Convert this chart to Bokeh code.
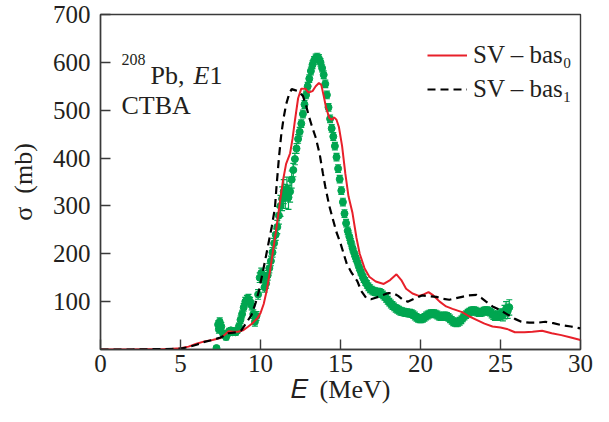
from bokeh.plotting import figure
from bokeh.models import (Range1d, FixedTicker, Label, Legend, LegendItem,
                          ColumnDataSource, Whisker, TeeHead)
from bokeh.embed import file_html
from bokeh.resources import INLINE

# ---------------- data ----------------
# SV - bas0 (red solid)
red_E = [0, 1, 2, 3, 4, 4.5, 5, 5.5, 6.0, 6.5, 7.0, 7.5, 7.8, 8.0, 8.3, 8.6, 8.9,
         9.2, 9.5, 9.8, 10.0, 10.2, 10.4, 10.6, 10.8, 11.0, 11.2, 11.4, 11.6, 11.85,
         12.0, 12.15, 12.35, 12.55, 12.8, 13.0, 13.25, 13.45, 13.65, 13.8, 13.95,
         14.1, 14.3, 14.45, 14.6, 14.75, 14.9, 15.1, 15.3, 15.5, 15.75, 16.0, 16.2,
         16.5, 16.8, 17.2, 17.7, 18.1, 18.5, 18.8, 19.1, 19.5, 19.9, 20.2, 20.5,
         20.8, 21.2, 21.6, 22.0, 22.6, 23.0, 23.5, 24.0, 24.5, 25.0, 25.4, 25.9,
         26.5, 27.0, 27.6, 28.2, 28.8, 29.4, 30.0]
red_S = [0, 0, 0, 0.5, 1, 1.5, 2.5, 6, 12, 17, 20, 24, 32, 38, 37, 37, 40,
         47, 55, 65, 76, 95, 125, 165, 210, 255, 305, 352, 388, 410,
         440, 478, 525, 545, 545, 537, 540, 550, 557, 553, 530,
         505, 484, 480, 485, 480, 465, 425, 368, 320, 285, 233, 200,
         170, 152, 142, 137, 145, 157, 145, 127, 117, 112, 115, 120,
         113, 100, 90, 85, 78, 70, 62, 54, 48, 46, 43, 36,
         36, 37, 39, 34, 30, 25, 20]

# SV - bas1 (black dashed)
blk_E = [0, 2, 4, 5, 5.5, 6.0, 6.5, 7.0, 7.5, 8.0, 8.5, 8.8, 9.0, 9.2, 9.45, 9.7,
         9.9, 10.1, 10.3, 10.5, 10.7, 10.9, 11.0, 11.15, 11.3, 11.45, 11.6, 11.8,
         11.95, 12.15, 12.35, 12.65, 12.85, 13.0, 13.2, 13.45, 13.7, 13.9, 14.05,
         14.3, 14.5, 14.75, 15.0, 15.2, 15.4, 15.7, 16.05, 16.3, 16.6, 16.9, 17.2,
         17.6, 18.0, 18.3, 18.6, 18.9, 19.2, 19.6, 20.1, 20.6, 21.0, 21.4, 21.8,
         22.2, 22.6, 23.0, 23.5, 23.8, 24.1, 24.5, 25.0, 25.4, 25.9, 26.3, 26.8,
         27.3, 27.8, 28.3, 28.8, 29.4, 30.0]
blk_S = [0, 0, 1, 2, 5, 10, 16, 20, 25, 34, 36, 40, 50, 60, 73, 98,
         122, 155, 188, 222, 256, 295, 340, 400, 450, 485, 512, 535,
         544, 542, 540, 530, 510, 490, 468, 443, 408, 368, 340,
         300, 275, 245, 222, 200, 178, 160, 143, 122, 108, 105, 108,
         113, 118, 118, 112, 104, 100, 106, 113, 111, 110, 106, 104,
         107, 110, 113, 114, 108, 100, 90, 82, 74, 64, 58, 56,
         56, 58, 55, 51, 48, 44]

# experiment (green points with error bars)
exp_E = [7.25, 7.35, 7.40, 7.45, 7.55, 7.65, 7.75, 7.85, 7.95, 8.05, 8.15, 8.25,
         8.35, 8.45, 8.55, 8.65, 8.75, 8.85, 8.95, 9.05, 9.15, 9.25, 9.35, 9.45,
         9.55, 9.65, 9.75, 9.85, 9.95, 10.05, 10.15, 10.25, 10.35, 10.45, 10.55,
         10.65, 10.75, 10.85, 10.95, 11.05, 11.15, 11.25, 11.35, 11.45, 11.55,
         11.65, 11.75, 11.85, 11.95, 12.05, 12.15, 12.25, 12.35, 12.45, 12.55,
         12.65, 12.75, 12.85, 12.95, 13.05, 13.15, 13.25, 13.35, 13.45, 13.55,
         13.65, 13.75, 13.85, 13.95, 14.05, 14.15, 14.25, 14.35, 14.45, 14.55,
         14.65, 14.75, 14.85, 14.95, 15.05, 15.15, 15.25, 15.35, 15.45, 15.55,
         15.65, 15.75, 15.85, 15.95, 16.05, 16.15, 16.25, 16.35, 16.45, 16.55,
         16.65, 16.75, 16.85, 16.95, 17.05, 17.15, 17.25, 17.35, 17.45, 17.55,
         17.65, 17.75, 17.85, 17.95, 18.05, 18.15, 18.25, 18.35, 18.45, 18.55,
         18.65, 18.75, 18.85, 18.95, 19.05, 19.15, 19.25, 19.35, 19.45, 19.55,
         19.65, 19.75, 19.85, 19.95, 20.05, 20.15, 20.25, 20.35, 20.45, 20.55,
         20.65, 20.75, 20.85, 20.95, 21.05, 21.15, 21.25, 21.35, 21.45, 21.55,
         21.65, 21.75, 21.85, 21.95, 22.05, 22.15, 22.25, 22.35, 22.45, 22.55,
         22.65, 22.75, 22.85, 22.95, 23.05, 23.15, 23.25, 23.35, 23.45, 23.55,
         23.65, 23.75, 23.85, 23.95, 24.05, 24.15, 24.25, 24.35, 24.45, 24.55,
         24.65, 24.75, 24.85, 24.95, 25.05, 25.15, 25.25, 25.35, 25.45, 25.55]
exp_S = [3, 52, 42, 58, 48, 34, 30, 26, 34, 38, 40, 36,
         38, 36, 40, 48, 62, 74, 88, 100, 104, 106, 100, 92,
         74, 58, 70, 115, 150, 160, 150, 130, 138, 155, 170,
         185, 203, 222, 240, 256, 280, 300, 315, 330, 320,
         335, 318, 330, 355, 375, 398, 420, 440, 455, 472,
         492, 512, 532, 550, 566, 582, 595, 604, 609, 611,
         608, 600, 588, 574, 555, 532, 506, 482, 462, 445,
         425, 402, 378, 356, 332, 308, 284, 264, 248, 236,
         224, 212, 202, 192, 183, 173, 164, 156, 148, 142,
         136, 131, 127, 124, 122, 121, 120, 120, 119, 117,
         114, 111, 107, 103, 99, 95, 92, 89, 86, 84,
         82, 80, 79, 78, 77, 77, 76, 76, 75, 73,
         70, 67, 65, 64, 64, 65, 67, 70, 72, 74,
         75, 75, 75, 74, 72, 70, 69, 69, 70, 70,
         69, 67, 64, 61, 58, 57, 56, 57, 59, 62,
         66, 70, 73, 76, 78, 80, 81, 81, 80, 78,
         77, 77, 78, 80, 81, 81, 80, 78, 75, 72,
         70, 70, 71, 73, 75, 72, 78, 85, 80, 88]
exp_err = [4, 8, 8, 8, 8, 6, 6, 6, 6, 6, 6, 6,
           6, 6, 6, 7, 8, 8, 8, 9, 9, 9, 9, 9,
           9, 9, 9, 10, 10, 10, 10, 10, 10, 10, 10,
           10, 10, 10, 12, 14, 18, 22, 25, 25, 25,
           25, 25, 22, 18, 14, 12, 10, 9, 9, 8,
           8, 8, 8, 8, 8, 8, 8, 8, 8, 8,
           8, 8, 8, 8, 8, 8, 8, 8, 8, 8,
           8, 8, 8, 8, 8, 8, 8, 8, 8, 8,
           8, 8, 8, 8, 8, 8, 8, 8, 8, 8,
           8, 8, 8, 8, 8, 8, 8, 8, 8, 8,
           8, 8, 8, 8, 8, 8, 8, 8, 8, 8,
           8, 8, 8, 8, 8, 8, 8, 8, 8, 8,
           8, 8, 8, 8, 8, 8, 8, 8, 8, 8,
           8, 8, 8, 8, 8, 8, 8, 8, 8, 8,
           8, 8, 8, 8, 8, 8, 8, 8, 8, 8,
           8, 8, 8, 8, 8, 8, 8, 8, 8, 8,
           8, 8, 8, 8, 8, 8, 8, 8, 9, 9,
           9, 9, 10, 10, 10, 12, 14, 15, 15, 16]

x_ticks = [0, 5, 10, 15, 20, 25, 30]
y_ticks = [100, 200, 300, 400, 500, 600, 700]

FONT = "Liberation Serif"
AX = "#3a3a3a"
TXT = "#231f20"
GREEN = "#00a650"
RED = "#e8202a"

p = figure(width=593, height=406, output_backend="svg", toolbar_location=None,
           x_range=Range1d(0, 30), y_range=Range1d(0, 700),
           min_border_left=100, min_border_right=13,
           min_border_top=14, min_border_bottom=53)
p.background_fill_color = "white"
p.border_fill_color = "white"
p.grid.visible = False
p.outline_line_color = AX
p.outline_line_width = 1.4

for ax in (p.xaxis[0], p.yaxis[0]):
    ax.axis_line_color = AX
    ax.axis_line_width = 1.4
    ax.major_tick_line_color = AX
    ax.major_tick_line_width = 1.4
    ax.major_tick_in = 10
    ax.major_tick_out = 0
    ax.minor_tick_line_color = None
    ax.major_label_text_font = FONT
    ax.major_label_text_font_size = "25px"
    ax.major_label_text_color = TXT
    ax.axis_label_text_font = FONT
    ax.axis_label_text_font_size = "26px"
    ax.axis_label_text_font_style = "normal"
    ax.axis_label_text_color = TXT

p.xaxis.ticker = FixedTicker(ticks=x_ticks)
p.xaxis.major_label_standoff = 5
p.xaxis.axis_label = "\U0001D438\u2002(MeV)"
p.xaxis.axis_label_standoff = 0
p.yaxis.ticker = FixedTicker(ticks=y_ticks)
p.yaxis.major_label_standoff = 10
p.yaxis.axis_label = "\u03c3\u00a0\u00a0(mb)"
p.yaxis.axis_label_standoff = 12

# experiment
src = ColumnDataSource(dict(x=exp_E, y=exp_S,
                            lo=[s - e for s, e in zip(exp_S, exp_err)],
                            hi=[s + e for s, e in zip(exp_S, exp_err)]))
w = Whisker(source=src, base="x", lower="lo", upper="hi",
            line_color=GREEN, line_width=1.2,
            upper_head=TeeHead(size=6, line_color=GREEN, line_width=1.2),
            lower_head=TeeHead(size=6, line_color=GREEN, line_width=1.2))
p.add_layout(w)
p.scatter("x", "y", source=src, marker="circle", size=7,
          fill_color=GREEN, line_color=GREEN)

r_red = p.line(red_E, red_S, line_color=RED, line_width=2)
r_blk = p.line(blk_E, blk_S, line_color="black", line_width=2.2,
               line_dash="8 5")

legend = Legend(items=[LegendItem(label="SV \u2013 bas\u2080", renderers=[r_red]),
                       LegendItem(label="SV \u2013 bas\u2081", renderers=[r_blk])],
                location=(327, 246))
legend.label_text_font = FONT
legend.label_text_font_size = "25px"
legend.label_text_color = TXT
legend.glyph_width = 40
legend.glyph_height = 20
legend.label_standoff = 6
legend.spacing = 6
legend.padding = 0
legend.margin = 0
legend.background_fill_alpha = 0
legend.border_line_alpha = 0
p.add_layout(legend)

def lab(x, y, text, size="26px", style="normal"):
    p.add_layout(Label(x=x, y=y, text=text, text_font=FONT,
                       text_font_size=size, text_font_style=style,
                       text_color=TXT, text_baseline="alphabetic",
                       text_align="left"))

# annotation
lab(1.31, 605, "208", size="16px")
lab(3.12, 572, "Pb,")
lab(5.81, 572, "E", style="italic")
lab(6.81, 572, "1")
lab(1.31, 510, "CTBA")

open("out.html", "w").write(file_html(p, INLINE))
